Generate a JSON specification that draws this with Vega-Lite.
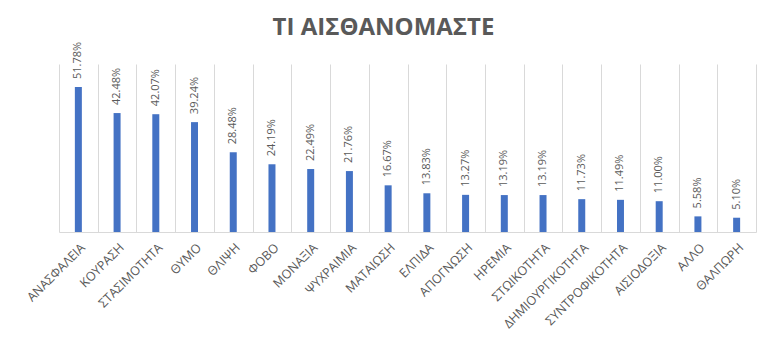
{
  "$schema": "https://vega.github.io/schema/vega-lite/v6.json",
  "width": 697,
  "height": 168,
  "autosize": {"type": "none"},
  "padding": {"left": 59, "top": 64, "right": 13, "bottom": 128},
  "background": "white",
  "title": {
    "text": "ΤΙ ΑΙΣΘΑΝΟΜΑΣΤΕ",
    "font": "Open Sans",
    "fontSize": 24,
    "fontWeight": "bold",
    "color": "#595959",
    "anchor": "middle",
    "dx": -24,
    "offset": 2
  },
  "config": {"view": {"stroke": null}},
  "data": {
    "values": [
      {"feeling": "ΑΝΑΣΦΑΛΕΙΑ", "share": 0.5178},
      {"feeling": "ΚΟΥΡΑΣΗ", "share": 0.4248},
      {"feeling": "ΣΤΑΣΙΜΟΤΗΤΑ", "share": 0.4207},
      {"feeling": "ΘΥΜΟ", "share": 0.3924},
      {"feeling": "ΘΛΙΨΗ", "share": 0.2848},
      {"feeling": "ΦΟΒΟ", "share": 0.2419},
      {"feeling": "ΜΟΝΑΞΙΑ", "share": 0.2249},
      {"feeling": "ΨΥΧΡΑΙΜΙΑ", "share": 0.2176},
      {"feeling": "ΜΑΤΑΙΩΣΗ", "share": 0.1667},
      {"feeling": "ΕΛΠΙΔΑ", "share": 0.1383},
      {"feeling": "ΑΠΟΓΝΩΣΗ", "share": 0.1327},
      {"feeling": "ΗΡΕΜΙΑ", "share": 0.1319},
      {"feeling": "ΣΤΩΙΚΟΤΗΤΑ", "share": 0.1319},
      {"feeling": "ΔΗΜΙΟΥΡΓΙΚΟΤΗΤΑ", "share": 0.1173},
      {"feeling": "ΣΥΝΤΡΟΦΙΚΟΤΗΤΑ", "share": 0.1149},
      {"feeling": "ΑΙΣΙΟΔΟΞΙΑ", "share": 0.11},
      {"feeling": "ΑΛΛΟ", "share": 0.0558},
      {"feeling": "ΘΑΛΠΩΡΗ", "share": 0.051}
    ]
  },
  "encoding": {
    "x": {
      "field": "feeling",
      "type": "nominal",
      "sort": null,
      "title": null,
      "scale": {"paddingInner": 0, "paddingOuter": 0},
      "axis": {
        "labelAngle": -45,
        "labelFont": "Open Sans",
        "labelFontSize": 12.5,
        "labelColor": "#595959",
        "labelPadding": 9,
        "ticks": false,
        "tickBand": "extent",
        "grid": true,
        "gridColor": "#d9d9d9",
        "gridWidth": 1,
        "domainColor": "#d9d9d9",
        "domainWidth": 1
      }
    },
    "y": {
      "field": "share",
      "type": "quantitative",
      "scale": {"domain": [0, 0.6]},
      "axis": null
    }
  },
  "layer": [
    {"mark": {"type": "bar", "width": 7, "color": "#4472C4"}},
    {
      "mark": {
        "type": "text",
        "angle": -90,
        "align": "left",
        "baseline": "middle",
        "dx": 8,
        "font": "Open Sans",
        "fontSize": 11,
        "color": "#595959"
      },
      "encoding": {"text": {"field": "share", "type": "quantitative", "format": ".2%"}}
    }
  ]
}
